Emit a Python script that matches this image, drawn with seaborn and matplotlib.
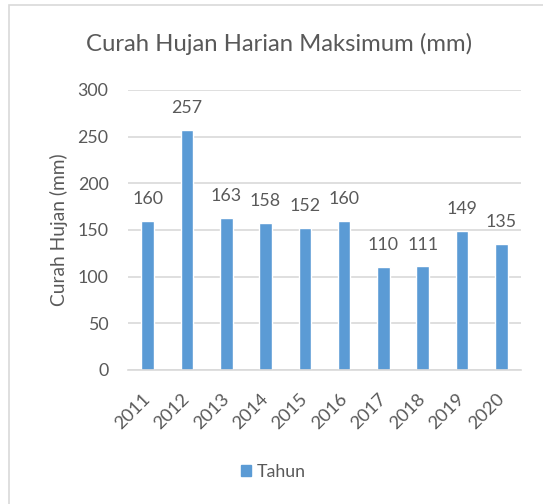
import matplotlib
matplotlib.use("Agg")
import matplotlib.pyplot as plt
import seaborn as sns
import pandas as pd
from matplotlib.patches import Patch, Rectangle

years = ["2011", "2012", "2013", "2014", "2015", "2016", "2017", "2018", "2019", "2020"]
rainfall = [160, 257, 163, 158, 152, 160, 110, 111, 149, 135]
title = "Curah Hujan Harian Maksimum (mm)"
ylabel = "Curah Hujan (mm)"
legend_label = "Tahun"
yticks = [0, 50, 100, 150, 200, 250, 300]

BAR = "#5B9BD5"
TXT = "#595959"
GRID = "#D9D9D9"

sns.set_theme(style="white")
plt.rcParams["font.family"] = ["Lato", "DejaVu Sans"]

W, H = 543, 504
fig = plt.figure(figsize=(W / 100, H / 100), dpi=100)
ax = fig.add_axes([128 / W, 1 - 370 / H, (521 - 128) / W, (370 - 90) / H])

df = pd.DataFrame({"year": years, "value": rainfall})
sns.barplot(data=df, x="year", y="value", color=BAR, saturation=1, width=0.32, ax=ax)

ax.set_ylim(0, 300)
ax.set_xlim(-0.5, len(years) - 0.5)
ax.set_yticks(yticks)
ax.yaxis.grid(True, color=GRID, linewidth=1.2)
ax.set_axisbelow(True)
for s in ["left", "right", "top"]:
    ax.spines[s].set_visible(False)
ax.spines["bottom"].set_color(GRID)
ax.spines["bottom"].set_linewidth(1.2)
ax.tick_params(axis="both", length=0, labelsize=12.8, labelcolor=TXT)
ax.tick_params(axis="y", pad=14)
ax.set_xlabel("")
ax.set_ylabel(ylabel, fontsize=13.8, color=TXT, labelpad=7)
plt.setp(ax.get_xticklabels(), rotation=45, ha="right", va="center", rotation_mode="anchor",
         fontsize=13.2)
ax.tick_params(axis="x", pad=19)

ax.bar_label(ax.containers[0], labels=[str(v) for v in rainfall], padding=10,
             fontsize=12.8, color=TXT)

fig.text(279 / W, 1 - 44 / H, title, ha="center", va="center", fontsize=17.2, color=TXT)

fig.legend(handles=[Patch(color=BAR, label=legend_label)], loc="center",
           bbox_to_anchor=(273 / W, 1 - 472 / H), frameon=False, fontsize=12.8,
           labelcolor=TXT, handlelength=0.6, handleheight=0.6, handletextpad=0.3)

fig.patches.append(Rectangle((8.5 / W, -0.1), 1.2, 1 - 5.5 / H + 0.1, transform=fig.transFigure,
                             fill=False, edgecolor="#D9D9D9", linewidth=1.2, figure=fig))

fig.savefig("out.png", dpi=100, facecolor="white")
